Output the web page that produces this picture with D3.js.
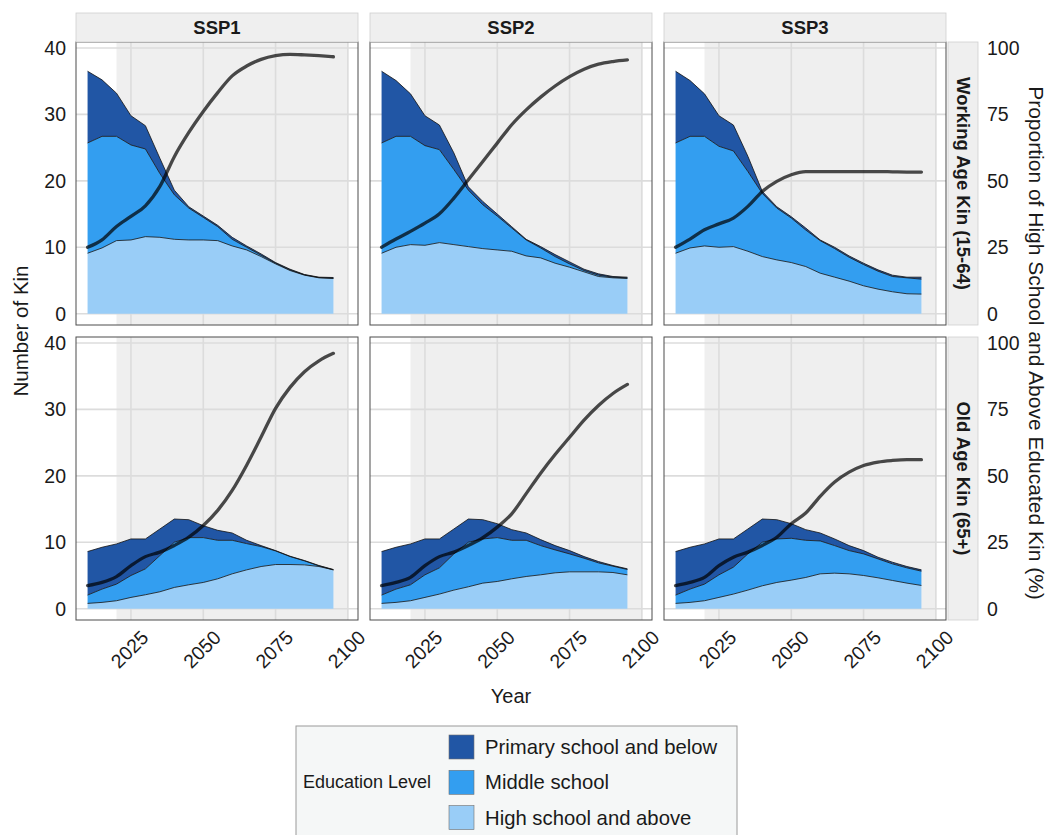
<!DOCTYPE html>
<html>
<head>
<meta charset="utf-8">
<script src="https://cdn.jsdelivr.net/npm/d3@7"></script>
<style>
  html, body { margin: 0; padding: 0; background: #fff; }
  svg { display: block; font-family: "Liberation Sans", Arial, Helvetica, sans-serif; }
</style>
</head>
<body>
<svg id="chart" width="1049" height="835"></svg>
<script>
// ---- data -------------------------------------------------------------
const years = [2010, 2015, 2020, 2025, 2030, 2035, 2040, 2045, 2050,
               2055, 2060, 2065, 2070, 2075, 2080, 2085, 2090, 2095];
const scenarios = ["SSP1", "SSP2", "SSP3"];
const ageGroups = ["Working Age Kin (15-64)", "Old Age Kin (65+)"];
const levels = ["Primary school and below", "Middle school", "High school and above"];
const xTicks = [2025, 2050, 2075, 2100];
const yTicks = [0, 10, 20, 30, 40];
const propTicks = [0, 25, 50, 75, 100];

// Number of kin by education level (working age)
const workPrimary = {
  SSP1: [10.8, 8.5, 6.5, 4.4, 3.5, 2.3, 0.7, 0.2, 0.2, 0.2, 0.3, 0.2, 0.2, 0.1, 0.1, 0.05, 0.05, 0.1],
  SSP2: [10.8, 8.4, 6.4, 4.5, 3.7, 2.5, 0.5, 0.5, 0.3, 0.2, 0.1, 0.2, 0.3, 0.3, 0.2, 0.2, 0.1, 0.1],
  SSP3: [10.8, 8.4, 6.4, 4.6, 3.9, 2.3, 0.3, 0.2, 0.2, 0.3, 0.1, 0.2, 0.2, 0.2, 0.2, 0.2, 0.1, 0.3]
};
const workMiddle = {
  SSP1: [16.6, 16.8, 15.7, 14.3, 13.2, 9.6, 6.7, 4.8, 3.4, 2.1, 1.0, 0.4, 0.2, 0.1, 0.1, 0.05, 0.05, 0.05],
  SSP2: [16.6, 16.7, 16.3, 15.0, 14.0, 11.3, 8.5, 6.6, 5.1, 3.5, 2.4, 1.5, 1.0, 0.5, 0.2, 0.2, 0.1, 0.1],
  SSP3: [16.6, 16.8, 16.5, 15.2, 14.4, 12.0, 9.5, 7.8, 6.7, 5.5, 4.9, 4.3, 3.6, 3.2, 2.7, 2.3, 2.4, 2.25]
};
const workHigh = {
  SSP1: [9.1, 9.9, 11.0, 11.1, 11.6, 11.5, 11.2, 11.1, 11.1, 11.0, 10.2, 9.6, 8.6, 7.5, 6.5, 5.8, 5.4, 5.3],
  SSP2: [9.1, 10.0, 10.4, 10.3, 10.7, 10.4, 10.1, 9.8, 9.6, 9.4, 8.7, 8.4, 7.6, 7.0, 6.3, 5.6, 5.4, 5.3],
  SSP3: [9.1, 9.9, 10.2, 10.0, 10.1, 9.4, 8.6, 8.1, 7.7, 7.1, 6.1, 5.5, 4.9, 4.2, 3.7, 3.3, 3.0, 2.95]
};

// Number of kin by education level (old age)
const oldPrimary = {
  SSP1: [6.55, 6.3, 6.05, 5.5, 4.5, 4.0, 3.5, 2.7, 1.8, 1.5, 1.1, 0.5, 0.15, 0.05, 0.05, 0.05, 0.05, 0.05],
  SSP2: [6.55, 6.3, 6.15, 5.4, 4.35, 3.75, 3.5, 2.9, 2.1, 1.6, 1.1, 0.9, 0.65, 0.5, 0.25, 0.2, 0.1, 0.1],
  SSP3: [6.55, 6.3, 6.05, 5.4, 4.25, 3.75, 3.5, 2.9, 2.2, 1.6, 1.2, 1.0, 0.75, 0.5, 0.25, 0.25, 0.2, 0.2]
};
const oldMiddle = {
  SSP1: [1.25, 2.0, 2.5, 3.3, 3.9, 5.45, 6.8, 7.1, 6.75, 5.8, 5.05, 3.95, 3.0, 2.05, 1.2, 0.6, 0.1, 0.0],
  SSP2: [1.25, 2.0, 2.4, 3.4, 3.95, 5.45, 6.7, 6.65, 6.6, 5.8, 5.45, 4.4, 3.45, 2.7, 2.05, 1.35, 0.95, 0.8],
  SSP3: [1.25, 2.0, 2.5, 3.4, 4.05, 5.45, 6.55, 6.55, 6.3, 5.6, 4.95, 4.15, 3.5, 3.25, 2.85, 2.5, 2.3, 2.15]
};
const oldHigh = {
  SSP1: [0.8, 0.95, 1.2, 1.7, 2.1, 2.55, 3.2, 3.6, 3.95, 4.5, 5.25, 5.85, 6.35, 6.65, 6.65, 6.6, 6.35, 5.85],
  SSP2: [0.8, 0.95, 1.2, 1.7, 2.2, 2.8, 3.3, 3.85, 4.1, 4.5, 4.85, 5.1, 5.4, 5.55, 5.55, 5.55, 5.45, 5.1],
  SSP3: [0.8, 0.95, 1.2, 1.7, 2.2, 2.8, 3.45, 3.95, 4.3, 4.7, 5.25, 5.35, 5.25, 5.0, 4.65, 4.25, 3.85, 3.5]
};

// Proportion (%) of kin with high school and above
const workShare = {
  SSP1: [25, 27.8, 32.8, 36.6, 40.6, 47.9, 59.1, 68.2, 76.1, 83.2, 89.5, 93.2, 95.7, 97.1, 97.6, 97.4, 97.1, 96.7],
  SSP2: [25, 28.1, 31, 34.1, 37.6, 43.5, 50.4, 57.3, 64.2, 71.1, 76.7, 81.5, 85.7, 89.2, 92, 93.9, 94.9, 95.5],
  SSP3: [25, 28.1, 31.6, 33.8, 36, 40.4, 46, 49.8, 52.3, 53.5, 53.5, 53.5, 53.5, 53.5, 53.5, 53.4, 53.3, 53.3]
};
const oldShare = {
  SSP1: [8.7, 9.9, 12.1, 16.2, 19.6, 21.3, 23.8, 26.9, 31.3, 37, 44.5, 54, 64.6, 75.4, 83.3, 89.2, 93.3, 96.1],
  SSP2: [8.7, 9.9, 11.8, 16.2, 19.6, 21.3, 23.8, 26.7, 30.7, 35.7, 43.3, 51, 58, 64.5, 71, 76.5, 81, 84.4],
  SSP3: [8.7, 9.9, 11.8, 16.2, 19.4, 21.3, 23.8, 26.9, 32, 36, 42.3, 47.7, 51.4, 53.9, 55.2, 55.8, 56.1, 56.1]
};

// ---- layout -----------------------------------------------------------
const colLeft = [76, 370, 664];
const rowTop = [42, 337];
const panelW = 282, panelH = 283;
const colors = {
  "Primary school and below": "#2156a5",
  "Middle school": "#339ef0",
  "High school and above": "#99cdf7"
};
const textColor = "#1a1a1a";

const svg = d3.select("#chart");

const x = d3.scaleLinear().domain([2006, 2103.5]).range([0, panelW]);
const y = d3.scaleLinear().domain([-1.7, 40.9]).range([panelH, 0]);
// right-hand axis: 100 % sits level with 40 kin
const yShare = d3.scaleLinear().domain([-1.7 * 2.5, 40.9 * 2.5]).range([panelH, 0]);

const stack = d3.stack().keys(["High school and above", "Middle school", "Primary school and below"]);

const area = d3.area()
  .x(d => x(d.data.year))
  .y0(d => y(d[0]))
  .y1(d => y(d[1]));
const topLine = d3.line()
  .x(d => x(d.data.year))
  .y(d => y(d[1]));
const shareLine = d3.line()
  .x(d => x(d.year))
  .y(d => yShare(d.share))
  .curve(d3.curveMonotoneX);

const panelData = [
  { primary: workPrimary, middle: workMiddle, high: workHigh, share: workShare },
  { primary: oldPrimary, middle: oldMiddle, high: oldHigh, share: oldShare }
];

rowTop.forEach((top, r) => {
  scenarios.forEach((sc, c) => {
    const g = svg.append("g").attr("transform", `translate(${colLeft[c]},${top})`);
    const src = panelData[r];

    // white panel, shaded projection window
    g.append("rect").attr("width", panelW).attr("height", panelH).attr("fill", "#fff");
    g.append("rect")
      .attr("x", x(2020)).attr("width", x(2100) - x(2020))
      .attr("y", 0).attr("height", panelH)
      .attr("fill", "#efefef");

    // grid
    g.selectAll(".hg").data(yTicks).join("line")
      .attr("x1", 0).attr("x2", panelW)
      .attr("y1", d => y(d)).attr("y2", d => y(d))
      .attr("stroke", "#dcdcdc").attr("stroke-width", 1.6);
    g.selectAll(".vg").data(xTicks).join("line")
      .attr("y1", 0).attr("y2", panelH)
      .attr("x1", d => x(d)).attr("x2", d => x(d))
      .attr("stroke", "#dcdcdc").attr("stroke-width", 1.6);

    // stacked education levels
    const rows = years.map((yr, i) => ({
      year: yr,
      "Primary school and below": src.primary[sc][i],
      "Middle school": src.middle[sc][i],
      "High school and above": src.high[sc][i]
    }));
    const series = stack(rows);
    g.selectAll(".layer").data(series).join("path")
      .attr("d", area)
      .attr("fill", d => colors[d.key]);
    g.selectAll(".edge").data(series).join("path")
      .attr("d", topLine)
      .attr("fill", "none")
      .attr("stroke", "#111")
      .attr("stroke-width", 0.8);

    // share of high school and above
    const shares = years.map((yr, i) => ({ year: yr, share: src.share[sc][i] }));
    g.append("path")
      .attr("d", shareLine(shares))
      .attr("fill", "none")
      .attr("stroke", "#000")
      .attr("stroke-opacity", 0.7)
      .attr("stroke-width", 3.3)
      .attr("stroke-linecap", "round")
      .attr("stroke-linejoin", "round");

    // panel frame
    g.append("rect").attr("width", panelW).attr("height", panelH)
      .attr("fill", "none").attr("stroke", "#4d4d4d").attr("stroke-width", 1);

    // left axis labels (first column)
    if (c === 0) {
      g.selectAll(".yl").data(yTicks).join("text")
        .attr("x", -10).attr("y", d => y(d))
        .attr("text-anchor", "end").attr("dominant-baseline", "central")
        .attr("font-size", 19.5).attr("fill", textColor)
        .text(d => d);
    }
    // x axis labels (bottom row)
    if (r === 1) {
      g.selectAll(".xl").data(xTicks).join("text")
        .attr("transform", d => `translate(${x(d) + 9},${panelH + 9}) rotate(-45)`)
        .attr("text-anchor", "end").attr("dy", "0.71em")
        .attr("font-size", 19.5).attr("fill", textColor)
        .text(d => d);
    }
  });

  // right strip with age group
  const sx = 948, sw = 30;
  svg.append("rect").attr("x", sx).attr("y", top).attr("width", sw).attr("height", panelH)
    .attr("fill", "#efefef").attr("stroke", "#cfcfcf").attr("stroke-width", 0.8);
  svg.append("text")
    .attr("transform", `translate(${sx + sw / 2},${top + panelH / 2}) rotate(90)`)
    .attr("text-anchor", "middle").attr("dominant-baseline", "central")
    .attr("font-size", 18.5).attr("font-weight", "bold").attr("fill", textColor)
    .text(ageGroups[r]);

  // right axis labels
  svg.selectAll(null).data(propTicks).join("text")
    .attr("x", 987).attr("y", d => top + yShare(d))
    .attr("dominant-baseline", "central")
    .attr("font-size", 19.5).attr("fill", textColor)
    .text(d => d);
});

// top strips with scenario names
scenarios.forEach((sc, c) => {
  svg.append("rect").attr("x", colLeft[c]).attr("y", 13).attr("width", panelW).attr("height", 29)
    .attr("fill", "#efefef").attr("stroke", "#cfcfcf").attr("stroke-width", 0.8);
  svg.append("text")
    .attr("x", colLeft[c] + panelW / 2).attr("y", 27.5)
    .attr("text-anchor", "middle").attr("dominant-baseline", "central")
    .attr("font-size", 18.5).attr("font-weight", "bold").attr("fill", textColor)
    .text(sc);
});

// axis titles
svg.append("text")
  .attr("transform", "translate(20,331) rotate(-90)")
  .attr("text-anchor", "middle").attr("dominant-baseline", "central")
  .attr("font-size", 20.5).attr("fill", textColor)
  .text("Number of Kin");
svg.append("text")
  .attr("transform", "translate(1036,343) rotate(90)")
  .attr("text-anchor", "middle").attr("dominant-baseline", "central")
  .attr("font-size", 21).attr("fill", textColor)
  .text("Proportion of High School and Above Educated Kin (%)");
svg.append("text")
  .attr("x", 511).attr("y", 696)
  .attr("text-anchor", "middle").attr("dominant-baseline", "central")
  .attr("font-size", 20).attr("fill", textColor)
  .text("Year");

// legend
const lg = svg.append("g");
lg.append("rect").attr("x", 296).attr("y", 726).attr("width", 441).attr("height", 130)
  .attr("fill", "#f5f7f7").attr("stroke", "#9a9a9a").attr("stroke-width", 1);
lg.append("text").attr("x", 303).attr("y", 782)
  .attr("dominant-baseline", "central")
  .attr("font-size", 18).attr("fill", textColor)
  .text("Education Level");
levels.forEach((lv, i) => {
  const yy = 735 + i * 35.3;
  lg.append("rect").attr("x", 449).attr("y", yy).attr("width", 25).attr("height", 24)
    .attr("fill", colors[lv]).attr("stroke", "#6e6e6e").attr("stroke-width", 0.6);
  lg.append("text").attr("x", 485).attr("y", yy + 12)
    .attr("dominant-baseline", "central")
    .attr("font-size", 20.3).attr("fill", textColor)
    .text(lv);
});
</script>
</body>
</html>
